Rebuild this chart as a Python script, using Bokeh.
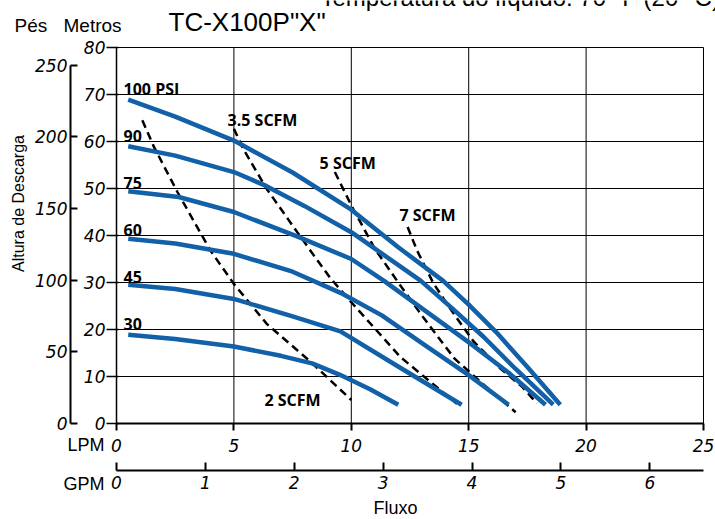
import math
from bokeh.plotting import figure
from bokeh.models import Range1d, LinearAxis, Label, FixedTicker, ColumnDataSource
from bokeh.core.properties import value
from bokeh.embed import file_html
from bokeh.resources import INLINE

# ---------------- data ----------------
lpm_ticks = [0, 5, 10, 15, 20, 25]
gpm_ticks = [0, 1, 2, 3, 4, 5, 6]
m_ticks = [0, 10, 20, 30, 40, 50, 60, 70, 80]
ft_ticks = [0, 50, 100, 150, 200, 250]
LPM_MAX = 25
M_MAX = 80
FT_MAX = 250

psi100_x = [0.5, 2.5, 5.0, 7.5, 10.0, 12.0, 13.9, 15.0, 16.2, 17.5, 18.9]
psi100_y = [68.9, 65.3, 60.2, 53.4, 45.5, 37.5, 30.4, 25.3, 19.3, 12.0, 4.0]
psi90_x = [0.5, 2.5, 5.0, 6.35, 8.0, 10.0, 12.95, 14.3, 15.64, 17.0, 18.6]
psi90_y = [59.0, 57.0, 53.5, 50.6, 46.3, 40.7, 30.4, 24.5, 18.4, 11.6, 4.0]
psi75_x = [0.5, 2.65, 5.0, 7.69, 10.0, 11.38, 13.2, 15.08, 16.7, 18.27]
psi75_y = [49.4, 48.2, 45.0, 39.8, 35.0, 30.4, 23.8, 17.0, 10.8, 4.0]
psi60_x = [0.5, 2.5, 5.0, 7.5, 9.54, 11.3, 13.1, 15.0, 16.7]
psi60_y = [39.3, 38.3, 36.1, 32.3, 27.8, 23.0, 16.8, 10.3, 4.0]
psi45_x = [0.5, 2.5, 5.0, 7.5, 9.54, 12.1, 14.7]
psi45_y = [29.5, 28.6, 26.5, 22.8, 19.6, 11.8, 4.0]
psi30_x = [0.5, 2.5, 5.0, 7.0, 8.33, 9.54, 10.8, 12.0]
psi30_y = [18.9, 18.0, 16.4, 14.4, 12.8, 10.3, 7.3, 4.0]

scfm2_x = [1.1, 1.6, 2.6, 4.0, 5.0, 6.4, 8.3, 10.0]
scfm2_y = [64.5, 58.8, 49.2, 36.8, 29.7, 21.2, 13.0, 5.0]
scfm35_x = [5.0, 5.4, 6.4, 7.7, 8.3, 9.1, 10.0, 12.1, 14.5]
scfm35_y = [62.7, 58.4, 49.9, 40.7, 36.5, 31.0, 25.8, 14.1, 4.2]
scfm5_x = [9.3, 10.0, 11.0, 12.0, 12.9, 13.8, 14.4, 15.7, 17.0]
scfm5_y = [53.5, 46.4, 37.2, 30.0, 23.7, 17.7, 13.8, 8.0, 2.4]
scfm7_x = [12.4, 12.8, 13.5, 14.3, 15.2, 16.35, 17.3, 17.9]
scfm7_y = [41.8, 36.8, 29.8, 23.8, 17.5, 11.7, 7.7, 4.3]

curve_labels = ["100 PSI", "90", "75", "60", "45", "30",
                "3.5 SCFM", "5 SCFM", "7 SCFM", "2 SCFM"]
curve_label_x = [0.3, 0.3, 0.3, 0.3, 0.3, 0.3, 4.73, 8.65, 12.05, 6.3]
curve_label_y = [71.2, 61.2, 51.2, 41.2, 31.2, 21.2, 64.5, 55.5, 44.3, 5.1]

LPM_PER_GPM = 3.785411784
M_PER_FT = 0.3048

# ---------------- layout ----------------
W, H = 715, 519
FL, FR, FT, FB = 116, 703, 47, 423  # chart box (page px)
def px2x(px):
    return (px - FL) * LPM_MAX / (FR - FL)
def py2y(py):
    return (FB - py) * M_MAX / (FB - FT)

BLUE = "#1160a8"
TICK_FONT = "DejaVu Sans"
TXT_FONT = "Liberation Sans"

x0, x1 = px2x(0), px2x(W)
y0, y1 = py2y(H), py2y(0)
p = figure(width=W, height=H, x_range=Range1d(x0, x1), y_range=Range1d(y0, y1),
           output_backend="svg", toolbar_location=None,
           x_axis_location=None, y_axis_location=None,
           min_border_left=0, min_border_right=0, min_border_top=0, min_border_bottom=0)
p.outline_line_color = None
p.background_fill_color = "white"
p.border_fill_color = "white"
p.grid.visible = False

p.extra_y_ranges = {"ft": Range1d(y0 / M_PER_FT, y1 / M_PER_FT)}
p.extra_x_ranges = {"gpm": Range1d(x0 / LPM_PER_GPM, x1 / LPM_PER_GPM)}

def style_axis(ax, lw):
    ax.axis_line_color = "black"
    ax.axis_line_width = lw
    ax.major_tick_line_color = "black"
    ax.major_tick_line_width = lw
    ax.minor_tick_line_color = None
    ax.major_label_text_font = TICK_FONT
    ax.major_label_text_font_style = "italic"
    ax.major_label_text_font_size = "17px"
    ax.major_label_text_color = "black"

# grid lines at the tick values
p.segment(x0=lpm_ticks, y0=[0] * len(lpm_ticks), x1=lpm_ticks, y1=[M_MAX] * len(lpm_ticks),
          line_color="black", line_width=1)
p.segment(x0=[0] * len(m_ticks), y0=m_ticks, x1=[LPM_MAX] * len(m_ticks), y1=m_ticks,
          line_color="black", line_width=1)

# meters axis
ma = LinearAxis(fixed_location=0, bounds=(0, M_MAX), ticker=FixedTicker(ticks=m_ticks))
style_axis(ma, 1.5)
ma.major_tick_out = 10
ma.major_tick_in = 2
ma.major_label_standoff = 1
p.add_layout(ma, "left")

# feet axis
fa = LinearAxis(y_range_name="ft", fixed_location=px2x(70), bounds=(0, FT_MAX),
                ticker=FixedTicker(ticks=ft_ticks))
style_axis(fa, 2)
fa.major_tick_in = 7
fa.major_tick_out = 0
fa.major_label_standoff = 3
p.add_layout(fa, "left")

# LPM axis
la = LinearAxis(fixed_location=0, bounds=(0, LPM_MAX), ticker=FixedTicker(ticks=lpm_ticks))
style_axis(la, 2)
la.major_tick_out = 7
la.major_tick_in = 0
la.major_label_standoff = 8
p.add_layout(la, "below")

# GPM axis
ga = LinearAxis(x_range_name="gpm", fixed_location=py2y(470), bounds=(0, LPM_MAX / LPM_PER_GPM),
                ticker=FixedTicker(ticks=gpm_ticks))
style_axis(ga, 2)
ga.major_tick_in = 8
ga.major_tick_out = 0
ga.major_label_standoff = 5
p.add_layout(ga, "below")

# dashed SCFM lines
for xs, ys in [(scfm2_x, scfm2_y), (scfm35_x, scfm35_y), (scfm5_x, scfm5_y), (scfm7_x, scfm7_y)]:
    p.line(xs, ys, line_color="black", line_width=2.5, line_dash="8 5")

# PSI curves
for xs, ys in [(psi100_x, psi100_y), (psi90_x, psi90_y), (psi75_x, psi75_y),
               (psi60_x, psi60_y), (psi45_x, psi45_y), (psi30_x, psi30_y)]:
    p.line(xs, ys, line_color=BLUE, line_width=4.5, line_join="round")

src = ColumnDataSource(dict(x=curve_label_x, y=curve_label_y, t=curve_labels))
p.text(x="x", y="y", text="t", source=src, text_font=value("Open Sans"),
       text_font_style="bold", text_font_size="16px", text_color="black",
       text_baseline="middle", text_align="left")

def add_label(text, px, py, size, align="left", angle=0.0):
    p.add_layout(Label(x=px2x(px), y=py2y(py), text=text, text_font=TXT_FONT,
                       text_font_size=size, text_align=align, text_baseline="middle",
                       angle=angle, text_color="black"))

add_label("Pés", 14, 25, "19px")
add_label("Metros", 63, 25, "19px")
add_label('TC-X100P"X"', 168, 21, "26px")
add_label("Temperatura do líquido: 70 °F (20 °C)", 320, -3, "24px")
add_label("LPM", 104, 444, "18px", align="right")
add_label("GPM", 104, 483, "18px", align="right")
add_label("Fluxo", 395, 507, "18px", align="center")
add_label("Altura de Descarga", 18, 203, "16px", align="center", angle=math.pi / 2)

open("out.html", "w").write(file_html(p, INLINE))
